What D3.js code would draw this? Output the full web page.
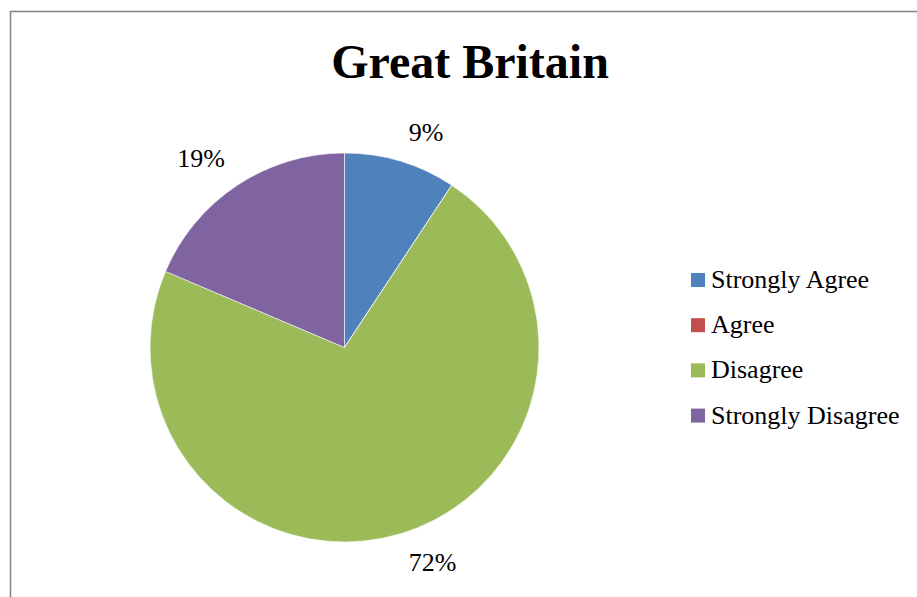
<!DOCTYPE html>
<html>
<head>
<meta charset="utf-8">
<script src="https://cdn.jsdelivr.net/npm/d3@7"></script>
<style>
html,body{margin:0;padding:0;background:#fff;}
svg{display:block;}
</style>
</head>
<body>
<svg id="chart" width="917" height="597"></svg>
<script>
const title = "Great Britain";
const categories = ["Strongly Agree", "Agree", "Disagree", "Strongly Disagree"];
const values = [9.3, 0, 72.1, 18.6];
const colors = ["#4F81BD", "#C0504D", "#9BBB59", "#8064A2"];

const svg = d3.select("#chart");
const font = "Liberation Serif, Times New Roman, serif";

// chart border
svg.append("rect")
  .attr("x", 10.5).attr("y", 11.5)
  .attr("width", 1000).attr("height", 1000)
  .attr("fill", "#fff")
  .attr("stroke", "#888").attr("stroke-width", 1.6);

svg.append("text")
  .attr("x", 470).attr("y", 78)
  .attr("text-anchor", "middle")
  .style("font-family", font).attr("font-weight", "bold")
  .attr("font-size", 48).attr("fill", "#000")
  .text(title);

const cx = 344.5, cy = 347.5, r = 194.5;
const total = d3.sum(values);
const data = categories.map((c, i) => ({cat: c, value: values[i], color: colors[i]}));
const pie = d3.pie().sort(null).value(d => d.value);
const arcs = pie(data);
const arc = d3.arc().innerRadius(0).outerRadius(r);

const g = svg.append("g").attr("transform", `translate(${cx},${cy})`);
g.selectAll("path").data(arcs).enter().append("path")
  .attr("d", arc)
  .attr("fill", d => d.data.color)
  .attr("stroke", "#fff").attr("stroke-width", 0.6);

// labels outside end
const lg = g.append("g");
arcs.filter(d => d.data.value > 0).forEach(d => {
  const mid = (d.startAngle + d.endAngle) / 2;
  const dx = Math.sin(mid), dy = -Math.cos(mid);
  const px = dx * (r + 15), py = dy * (r + 15);
  const t = lg.append("text")
    .style("font-family", font).attr("font-size", 26).attr("fill", "#000")
    .attr("text-anchor", "middle")
    .text(Math.round(d.data.value / total * 100) + "%");
  const bb = t.node().getBBox();
  const w = bb.width, h = bb.height;
  const ccx = px + Math.sign(dx) * (w / 2 + 4);
  const ccy = py + Math.sign(dy) * h / 2;
  t.attr("x", ccx).attr("y", ccy - (bb.y + h / 2));
});

// legend
const leg = svg.append("g").attr("transform", "translate(691,280)");
const rows = leg.selectAll("g").data(data).enter().append("g")
  .attr("transform", (d, i) => `translate(0,${i * 45.2})`);
rows.append("rect")
  .attr("x", 0).attr("y", -7).attr("width", 14).attr("height", 14)
  .attr("fill", d => d.color);
rows.append("text")
  .attr("x", 20).attr("y", 8)
  .style("font-family", font).attr("font-size", 26).attr("fill", "#000")
  .text(d => d.cat);
</script>
</body>
</html>
